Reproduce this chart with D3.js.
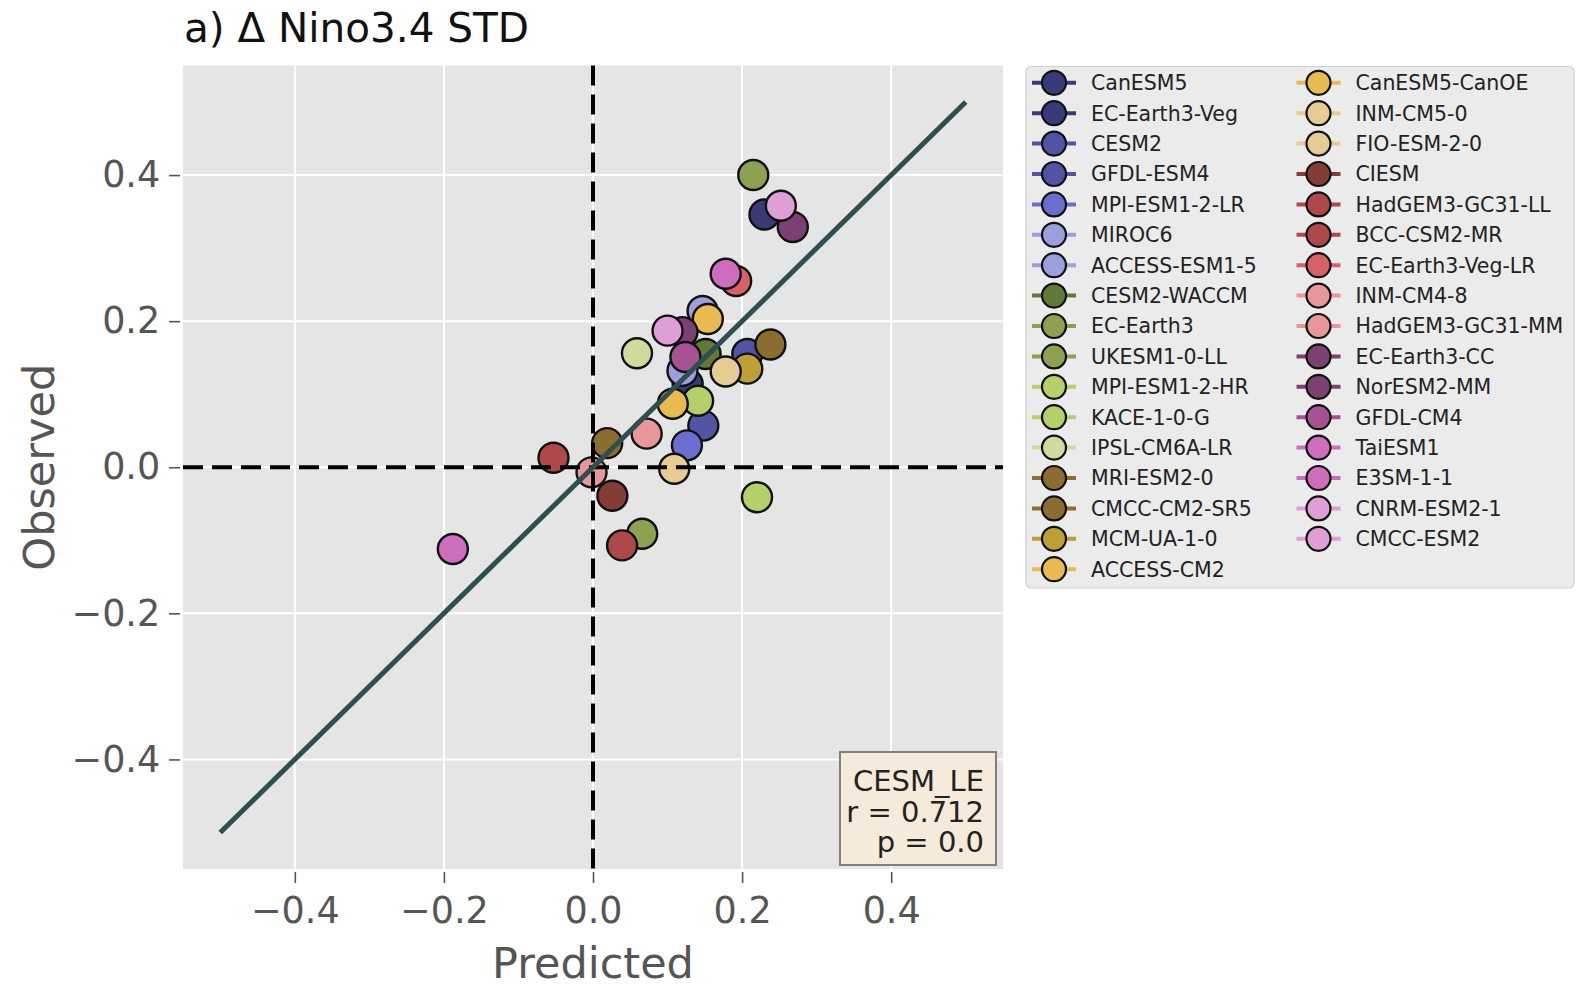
<!DOCTYPE html>
<html lang="en">
<head>
    <meta charset="UTF-8">
    <title>Nino3.4 STD</title>
    <script src="https://d3js.org/d3.v7.min.js"></script>
    <style>
        body { margin: 0; background: #fff; }
        svg text { font-family: "DejaVu Sans", sans-serif; }
    </style>
</head>
<body>
    <div id="chart"></div>
    <script>
        // models in legend order (column 1 then column 2)
        const models = [
            "CanESM5", "EC-Earth3-Veg", "CESM2", "GFDL-ESM4", "MPI-ESM1-2-LR",
            "MIROC6", "ACCESS-ESM1-5", "CESM2-WACCM", "EC-Earth3", "UKESM1-0-LL",
            "MPI-ESM1-2-HR", "KACE-1-0-G", "IPSL-CM6A-LR", "MRI-ESM2-0", "CMCC-CM2-SR5",
            "MCM-UA-1-0", "ACCESS-CM2",
            "CanESM5-CanOE", "INM-CM5-0", "FIO-ESM-2-0", "CIESM", "HadGEM3-GC31-LL",
            "BCC-CSM2-MR", "EC-Earth3-Veg-LR", "INM-CM4-8", "HadGEM3-GC31-MM",
            "EC-Earth3-CC", "NorESM2-MM", "GFDL-CM4", "TaiESM1", "E3SM-1-1",
            "CNRM-ESM2-1", "CMCC-ESM2"
        ];
        const predicted = [
            0.230, 0.127, 0.207, 0.148, 0.126,
            0.147, 0.120, 0.151, 0.215, 0.066,
            0.141, 0.220, 0.059, 0.238, 0.019,
            0.207, 0.154,
            0.107, 0.178, 0.109, 0.026, 0.039,
            -0.053, 0.192, 0.072, -0.002,
            0.268, 0.120, 0.124, 0.178, -0.188,
            0.252, 0.100
        ];
        const observed = [
            0.346, 0.114, 0.155, 0.057, 0.030,
            0.214, 0.132, 0.155, 0.400, -0.091,
            0.091, -0.041, 0.156, 0.168, 0.033,
            0.135, 0.203,
            0.087, 0.131, -0.002, -0.039, -0.107,
            0.013, 0.255, 0.046, -0.007,
            0.329, 0.185, 0.151, 0.265, -0.112,
            0.358, 0.187
        ];
        const xTicks = [-0.4, -0.2, 0.0, 0.2, 0.4];
        const yTicks = [-0.4, -0.2, 0.0, 0.2, 0.4];
        const fitX = [-0.5, 0.5];
        const fitY = [-0.5, 0.5];
        const statLines = ["CESM_LE", "r = 0.712", "p = 0.0"];

        // tab20b sampled at 33 points
        const tab20b = ["#393b79", "#5254a3", "#6b6ecf", "#9c9ede", "#637939", "#8ca252",
            "#b5cf6b", "#cedb9c", "#8c6d31", "#bd9e39", "#e7ba52", "#e7cb94", "#843c39",
            "#ad494a", "#d6616b", "#e7969c", "#7b4173", "#a55194", "#ce6dbd", "#de9ed6"];
        const colorOf = i => tab20b[Math.min(19, Math.floor(i * 20 / (models.length - 1) + 1e-9))];

        const W = 1577, H = 990;
        const svg = d3.select("#chart").append("svg")
            .attr("width", W).attr("height", H);

        const x = d3.scaleLinear().domain([-0.55, 0.55]).range([183, 1003]);
        const y = d3.scaleLinear().domain([-0.55, 0.55]).range([869, 65.5]);
        const [x0, x1] = x.range();
        const [y0, y1] = y.range();

        // plot background
        svg.append("rect")
            .attr("x", x0).attr("y", y1)
            .attr("width", x1 - x0).attr("height", y0 - y1)
            .attr("fill", "#e5e5e5");

        // grid
        svg.append("g").selectAll("line").data(xTicks).join("line")
            .attr("x1", d => x(d)).attr("x2", d => x(d))
            .attr("y1", y1).attr("y2", y0)
            .attr("stroke", "#fff").attr("stroke-width", 2);
        svg.append("g").selectAll("line").data(yTicks).join("line")
            .attr("y1", d => y(d)).attr("y2", d => y(d))
            .attr("x1", x0).attr("x2", x1)
            .attr("stroke", "#fff").attr("stroke-width", 2);

        // axes
        const fmt = d3.format(".1f");
        const xAxis = svg.append("g")
            .attr("transform", `translate(0,${y0})`)
            .call(d3.axisBottom(x).tickValues(xTicks).tickFormat(fmt).tickSize(11).tickPadding(8));
        const yAxis = svg.append("g")
            .attr("transform", `translate(${x0},0)`)
            .call(d3.axisLeft(y).tickValues(yTicks).tickFormat(fmt).tickSize(11).tickPadding(10));
        [xAxis, yAxis].forEach(a => {
            a.select(".domain").remove();
            a.selectAll(".tick line").attr("stroke", "#555").attr("stroke-width", 1.6);
            a.selectAll(".tick text").attr("fill", "#555")
                .style("font-size", "36.5px").style("font-family", "DejaVu Sans");
        });
        xAxis.selectAll(".tick line").attr("transform", "translate(0,3)");
        yAxis.selectAll(".tick line").attr("transform", "translate(-3,0)");
        xAxis.selectAll(".tick text").attr("dy", "0.95em");
        yAxis.selectAll(".tick text").attr("dx", "-0.05em");

        // points
        const idx = d3.range(models.length);
        svg.append("g").selectAll("circle").data(idx).join("circle")
            .attr("cx", i => x(predicted[i]))
            .attr("cy", i => y(observed[i]))
            .attr("r", 15)
            .attr("fill", i => colorOf(i))
            .attr("stroke", "#111").attr("stroke-width", 2.4);

        // zero lines
        svg.append("line")
            .attr("x1", x(0)).attr("x2", x(0)).attr("y1", y1).attr("y2", y0)
            .attr("stroke", "#000").attr("stroke-width", 4).attr("stroke-dasharray", "20,9");
        svg.append("line")
            .attr("x1", x0).attr("x2", x1).attr("y1", y(0)).attr("y2", y(0))
            .attr("stroke", "#000").attr("stroke-width", 4).attr("stroke-dasharray", "20,9");

        // 1:1 fit line
        svg.append("path")
            .datum(d3.zip(fitX, fitY))
            .attr("d", d3.line().x(d => x(d[0])).y(d => y(d[1])))
            .attr("fill", "none").attr("stroke", "#2f4f4f").attr("stroke-width", 5);

        // stats box, one text block with a line per tspan
        const box = svg.append("g");
        box.append("rect")
            .attr("x", 840).attr("y", 752).attr("width", 156).attr("height", 113)
            .attr("fill", "#f6eada").attr("stroke", "#808080").attr("stroke-width", 2);
        box.append("text")
            .attr("text-anchor", "end")
            .attr("fill", "#222")
            .style("font-size", "29px")
            .selectAll("tspan").data(statLines).join("tspan")
            .attr("x", 984).attr("y", (d, i) => 791 + i * 30.5)
            .text(d => d);

        // titles
        svg.append("text")
            .attr("x", 184).attr("y", 42)
            .attr("fill", "#111")
            .style("font-size", "40.5px")
            .text("a) \u0394 Nino3.4 STD");
        svg.append("text")
            .attr("x", x(0)).attr("y", 978)
            .attr("text-anchor", "middle").attr("fill", "#555")
            .style("font-size", "43px")
            .text("Predicted");
        svg.append("text")
            .attr("transform", `translate(54,${y(0)}) rotate(-90)`)
            .attr("text-anchor", "middle").attr("fill", "#555")
            .style("font-size", "43px")
            .text("Observed");

        // legend
        const perCol = 17, rowH = 30.4;
        const colX = [1054, 1318.5];
        const leg = svg.append("g");
        leg.append("rect")
            .attr("x", 1026).attr("y", 66.5).attr("width", 548).attr("height", 521.5)
            .attr("rx", 5)
            .attr("fill", "#ebebeb").attr("stroke", "#d0d0d0").attr("stroke-width", 1.2);
        const item = leg.selectAll("g.item").data(idx).join("g")
            .attr("class", "item")
            .attr("transform", i => `translate(${colX[Math.floor(i / perCol)]},${82.8 + (i % perCol) * rowH})`);
        item.append("line")
            .attr("x1", -22).attr("x2", 22)
            .attr("stroke", i => colorOf(i)).attr("stroke-width", 4);
        item.append("circle")
            .attr("r", 12)
            .attr("fill", i => colorOf(i))
            .attr("stroke", "#111").attr("stroke-width", 2.2);
        item.append("text")
            .attr("x", 37).attr("dy", "0.36em")
            .attr("fill", "#222")
            .style("font-size", "20.5px")
            .text(i => models[i]);
    </script>
</body>
</html>
